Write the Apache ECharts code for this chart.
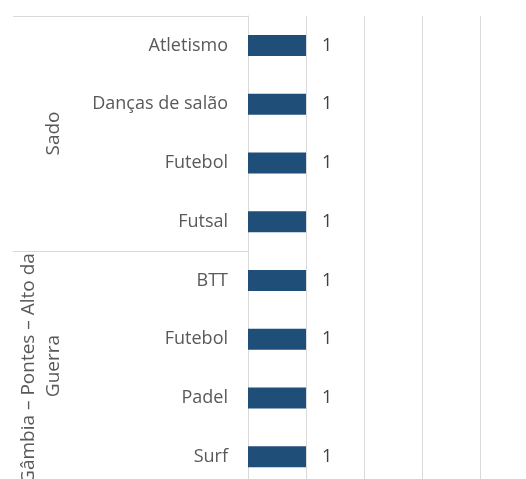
<!DOCTYPE html>
<html>
<head>
<meta charset="utf-8">
<script src="https://cdn.jsdelivr.net/npm/echarts@6/dist/echarts.min.js"></script>
<style>
  html, body { margin: 0; padding: 0; background: #fff; }
  #chart { width: 526px; height: 479px; }
</style>
</head>
<body>
<div id="chart"></div>
<script>
// categorias (de cima para baixo) e os respetivos grupos
var categorias = ['Atletismo', 'Danças de salão', 'Futebol', 'Futsal', 'BTT', 'Futebol', 'Padel', 'Surf'];
var grupos = ['Sado', 'Gâmbia – Pontes – Alto da Guerra'];
var valores = [1, 1, 1, 1, 1, 1, 1, 1];

var fonte = '"Open Sans", sans-serif';
var chart = echarts.init(document.getElementById('chart'));

var option = {
  animation: false,
  grid: { left: 248, width: 232, top: 16, height: 470, outerBoundsMode: 'none', containLabel: false },
  xAxis: {
    type: 'value',
    min: 0,
    max: 4,
    interval: 1,
    axisLabel: { show: false },
    axisLine: { show: false },
    axisTick: { show: false },
    splitLine: { lineStyle: { color: '#d9d9d9', width: 1 } }
  },
  yAxis: [
    {
      type: 'category',
      inverse: true,
      data: categorias,
      axisLine: { show: true, lineStyle: { color: '#d9d9d9' } },
      axisTick: { show: false },
      axisLabel: { color: '#595959', fontFamily: fonte, fontSize: 18, margin: 20 }
    },
    {
      type: 'category',
      inverse: true,
      position: 'left',
      data: grupos,
      axisLine: { show: false },
      axisTick: { show: true, length: 235, lineStyle: { color: '#d9d9d9' } },
      axisLabel: {
        rotate: 90,
        interval: 0,
        margin: 182,
        color: '#595959',
        fontFamily: fonte,
        fontSize: 19,
        width: 260,
        overflow: 'break',
        lineHeight: 25
      }
    }
  ],
  series: [{
    type: 'bar',
    data: valores,
    barWidth: 21,
    itemStyle: { color: '#1f4e79' },
    label: {
      show: true,
      position: 'right',
      distance: 16,
      color: '#404040',
      fontFamily: fonte,
      fontSize: 18
    }
  }]
};
chart.setOption(option);
</script>
</body>
</html>
